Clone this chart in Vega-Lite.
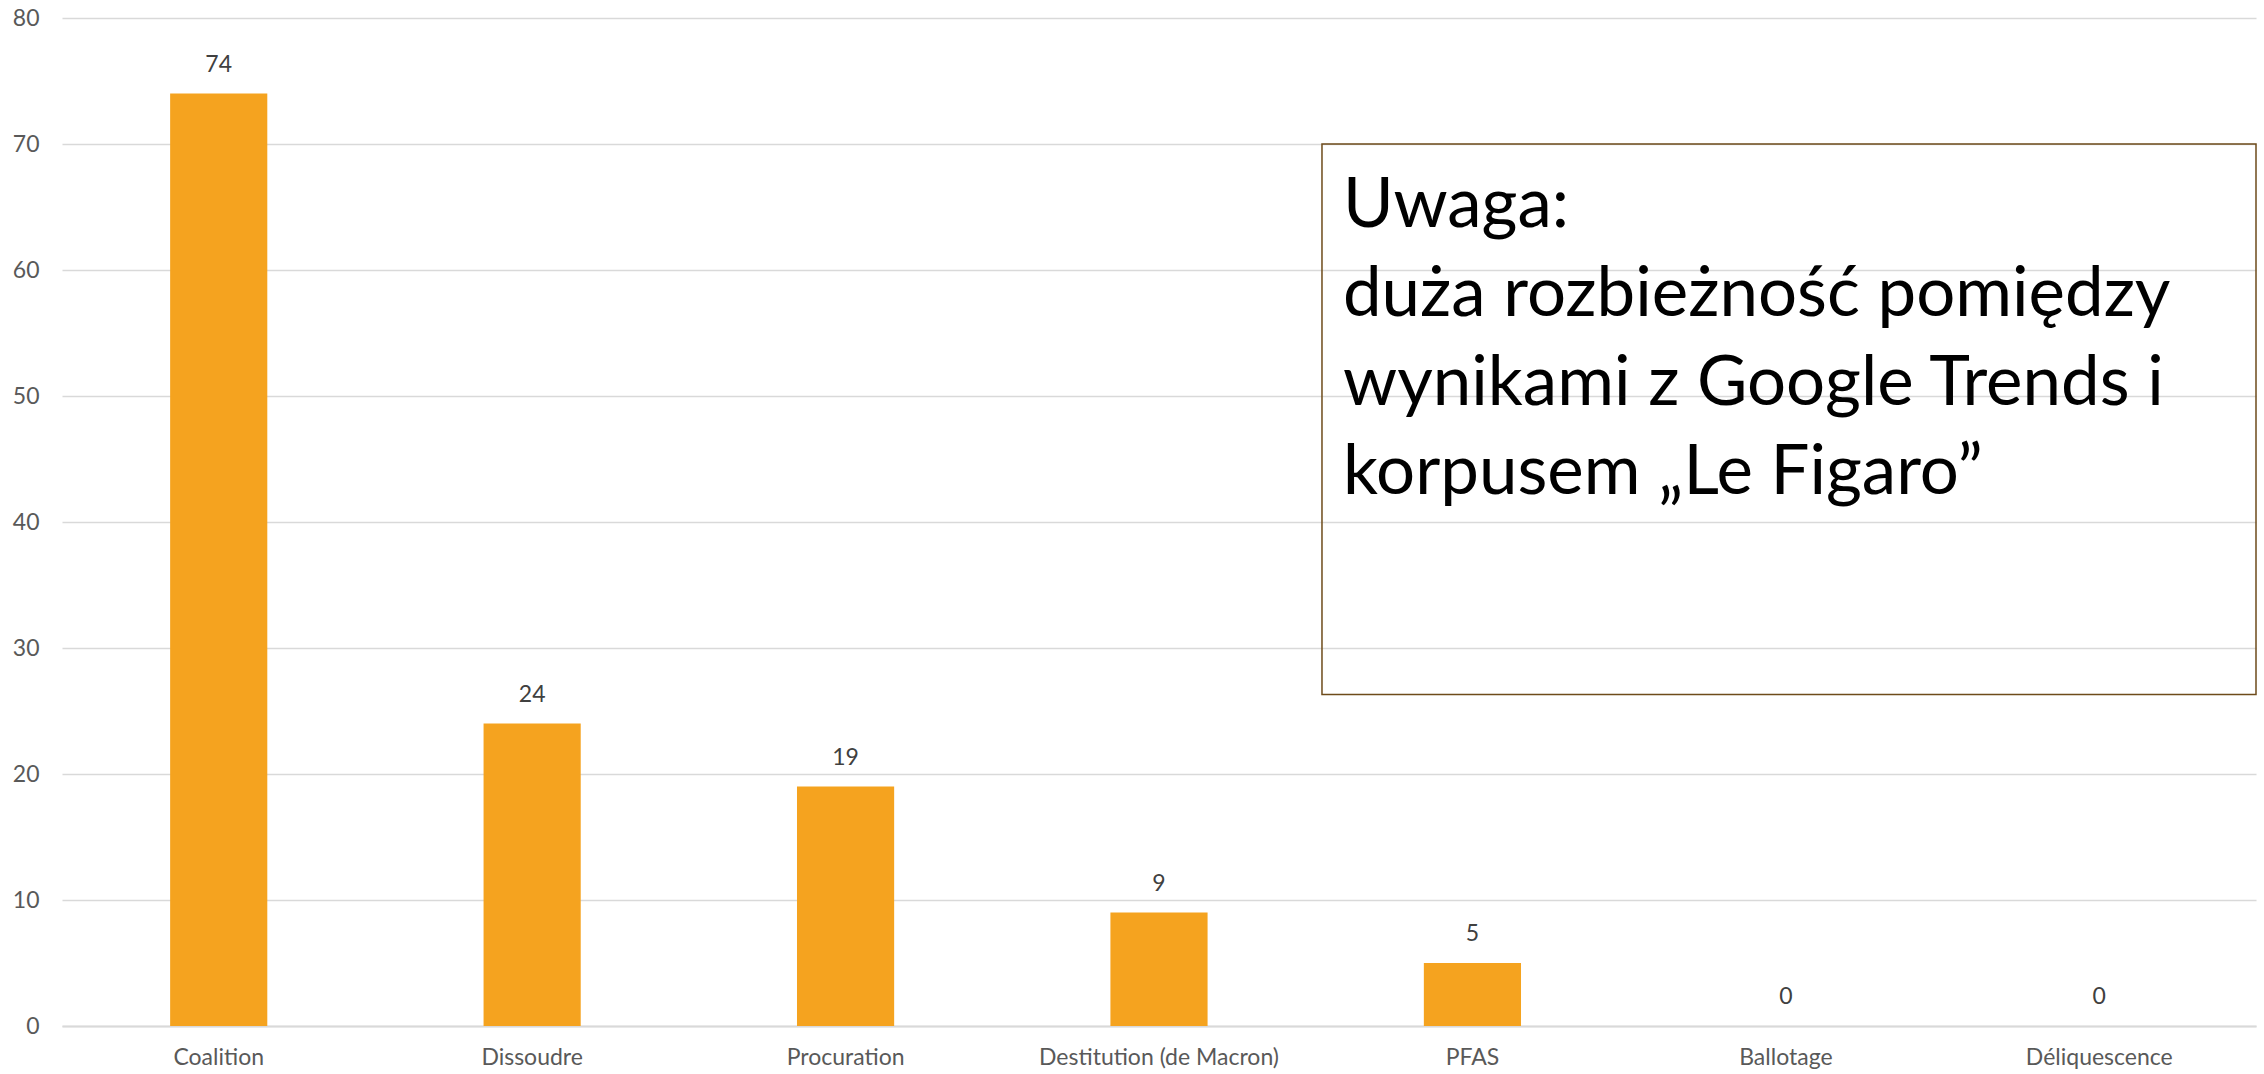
{
  "$schema": "https://vega.github.io/schema/vega-lite/v6.json",
  "width": 2194,
  "height": 1008,
  "autosize": "none",
  "padding": {"left": 62, "top": 18, "right": 8, "bottom": 48},
  "background": "white",
  "config": {"view": {"stroke": null}, "font": "Lato"},
  "layer": [
    {
      "data": {
        "values": [
          {"term": "Coalition", "value": 74},
          {"term": "Dissoudre", "value": 24},
          {"term": "Procuration", "value": 19},
          {"term": "Destitution (de Macron)", "value": 9},
          {"term": "PFAS", "value": 5},
          {"term": "Ballotage", "value": 0},
          {"term": "Déliquescence", "value": 0}
        ]
      },
      "encoding": {
        "x": {
          "field": "term",
          "type": "nominal",
          "sort": null,
          "scale": {"paddingInner": 0, "paddingOuter": 0},
          "axis": {
            "title": null,
            "labelAngle": 0,
            "labelLimit": 0,
            "ticks": false,
            "domainColor": "#d9d9d9",
            "domainWidth": 2,
            "labelPadding": 20,
            "labelFontSize": 23,
            "labelColor": "#595959",
            "labelFont": "Lato"
          }
        },
        "y": {
          "field": "value",
          "type": "quantitative",
          "scale": {"domain": [0, 80], "nice": false},
          "axis": {
            "title": null,
            "values": [0, 10, 20, 30, 40, 50, 60, 70, 80],
            "ticks": false,
            "domain": false,
            "grid": true,
            "gridColor": "#d9d9d9",
            "gridWidth": 1.5,
            "labelPadding": 23,
            "labelFontSize": 23,
            "labelColor": "#595959",
            "labelFont": "Lato"
          }
        }
      },
      "layer": [
        {"mark": {"type": "bar", "color": "#F5A31F", "width": {"band": 0.31}}},
        {
          "mark": {"type": "text", "baseline": "bottom", "dy": -17, "fontSize": 23, "color": "#404040", "font": "Lato"},
          "encoding": {"text": {"field": "value", "type": "quantitative"}}
        }
      ]
    },
    {
      "data": {"values": [{}]},
      "layer": [
        {
          "mark": {"type": "rect", "fill": null, "stroke": "#6E4B1B", "strokeWidth": 1.5},
          "encoding": {
            "x": {"datum": 4.02, "type": "quantitative", "scale": {"domain": [0, 7], "nice": false, "zero": false}, "axis": null},
            "x2": {"datum": 7},
            "y": {"datum": 26.3, "type": "quantitative", "scale": {"domain": [0, 80], "nice": false}, "axis": null},
            "y2": {"datum": 70}
          }
        },
        {
          "mark": {"type": "text", "align": "left", "baseline": "alphabetic", "fontSize": 69, "lineHeight": 89, "color": "#000000", "font": "Lato"},
          "encoding": {
            "x": {"datum": 4.087, "type": "quantitative", "scale": {"domain": [0, 7], "nice": false, "zero": false}, "axis": null},
            "y": {"datum": 63.4, "type": "quantitative", "scale": {"domain": [0, 80], "nice": false}, "axis": null},
            "text": {"value": ["Uwaga:", "duża rozbieżność pomiędzy", "wynikami z Google Trends i", "korpusem „Le Figaro”"]}
          }
        }
      ]
    }
  ],
  "resolve": {"scale": {"x": "independent", "y": "independent"}}
}
